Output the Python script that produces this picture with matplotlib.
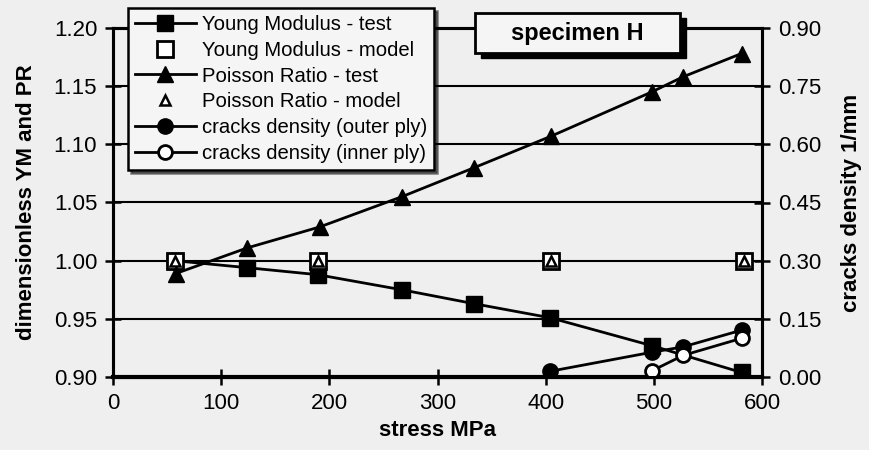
import matplotlib
matplotlib.use('Agg')
import matplotlib.pyplot as plt
from matplotlib.patches import Rectangle

plt.rcParams['font.family'] = ['Liberation Sans', 'DejaVu Sans']

# ---------------------------------------------------------
# data (specimen H)
# ---------------------------------------------------------
ym_stress = [57, 124, 189, 267, 334, 404, 498, 581]
ym_test = [1.000, 0.994, 0.988, 0.975, 0.963, 0.951, 0.927, 0.904]

pr_stress = [58, 124, 191, 267, 334, 405, 498, 527, 581]
pr_test = [0.989, 1.011, 1.029, 1.055, 1.080, 1.107, 1.145, 1.158, 1.178]

model_stress = [57, 189, 405, 583]
ym_model = [1.0, 1.0, 1.0, 1.0]
pr_model = [1.0, 1.0, 1.0, 1.0]

outer_stress = [404, 498, 527, 581]
outer_density = [0.015, 0.064, 0.078, 0.121]
inner_stress = [498, 527, 581]
inner_density = [0.016, 0.056, 0.100]

x_ticks = [0, 100, 200, 300, 400, 500, 600]
left_ticks = [0.90, 0.95, 1.00, 1.05, 1.10, 1.15, 1.20]
right_ticks = [0.00, 0.15, 0.30, 0.45, 0.60, 0.75, 0.90]

bg = '#efefef'
fig = plt.figure(figsize=(8.7, 4.5), dpi=100, facecolor=bg)
ax = fig.add_axes([0.130, 0.162, 0.746, 0.776], facecolor=bg)
ax2 = ax.twinx()

lw = 2.0
ms = 11
h1, = ax.plot(ym_stress, ym_test, color='k', lw=lw, marker='s', ms=ms, label='Young Modulus - test')
h2, = ax.plot(model_stress, ym_model, ls='none', marker='s', ms=ms, mfc='white', mec='k', mew=2.0,
              label='Young Modulus - model')
h3, = ax.plot(pr_stress, pr_test, color='k', lw=lw, marker='^', ms=ms + 1, label='Poisson Ratio - test')
h4, = ax.plot(model_stress, pr_model, ls='none', marker='^', ms=7.5, mfc='white', mec='k', mew=1.8,
              label='Poisson Ratio - model')
h5, = ax2.plot(outer_stress, outer_density, color='k', lw=lw, marker='o', ms=ms, label='cracks density (outer ply)')
h6, = ax2.plot(inner_stress, inner_density, color='k', lw=lw, marker='o', ms=ms - 1, mfc='white', mec='k',
               mew=2.0, label='cracks density (inner ply)')

ax.set_xlim(0, 600)
ax.set_ylim(0.90, 1.20)
ax2.set_ylim(0.0, 0.90)
ax.set_xticks(x_ticks)
ax.set_yticks(left_ticks)
ax.set_yticklabels([f'{v:.2f}' for v in left_ticks])
ax2.set_yticks(right_ticks)
ax2.set_yticklabels([f'{v:.2f}' for v in right_ticks])

ax.grid(axis='y', color='k', lw=1.5)
ax.set_axisbelow(True)

for a in (ax, ax2):
    a.tick_params(direction='inout', length=11, width=1.8, labelsize=16, pad=6)
    for s in a.spines.values():
        s.set_linewidth(2.2)
ax.spines['bottom'].set_linewidth(3.0)

ax.set_xlabel('stress MPa', fontsize=16, fontweight='bold', labelpad=4)
ax.set_ylabel('dimensionless YM and PR', fontsize=16, fontweight='bold', labelpad=12)
ax2.set_ylabel('cracks density 1/mm', fontsize=16, fontweight='bold', labelpad=14)

leg = fig.legend(handles=[h1, h2, h3, h4, h5, h6], loc='upper left', bbox_to_anchor=(0.147, 0.982),
                 fontsize=14.6, frameon=True, fancybox=False, framealpha=1, edgecolor='k',
                 facecolor='#f5f5f5', handlelength=3.0, handletextpad=0.3, labelspacing=0.33,
                 borderpad=0.35, borderaxespad=0.0, shadow={'color': 'k'})
leg.get_frame().set_linewidth(1.8)

# "specimen H" box with a shadow
fig.patches.append(Rectangle((0.553, 0.871), 0.236, 0.089, transform=fig.transFigure,
                             facecolor='k', edgecolor='k', zorder=6))
fig.patches.append(Rectangle((0.546, 0.882), 0.236, 0.089, transform=fig.transFigure,
                             facecolor='#f5f5f5', edgecolor='k', lw=2.0, zorder=7))
fig.text(0.664, 0.926, 'specimen H', fontsize=17, fontweight='bold', ha='center', va='center', zorder=8)

plt.savefig('out.png', dpi=100, facecolor=bg)
